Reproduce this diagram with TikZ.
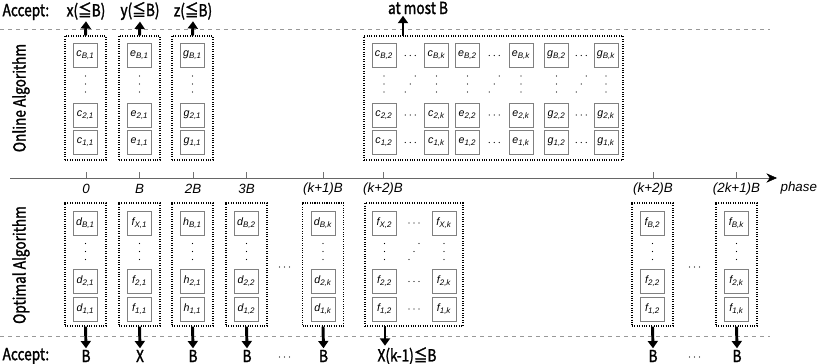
\documentclass[tikz,border=0pt]{standalone}
\usepackage{fontspec}
\setmainfont{Liberation Sans}
\newfontfamily\jpfont{Noto Sans CJK JP}[FakeStretch=0.82,FakeBold=1.6]
\usetikzlibrary{arrows.meta,positioning}

\tikzset{
  cell/.style={draw=black!50,fill=white,minimum size=18pt,inner sep=0pt,font=\footnotesize\itshape},
  grp/.style={draw,densely dotted,thick,inner sep=0pt,minimum width=30.75pt,minimum height=93pt},
  acc/.style={-{Triangle[length=5.5pt,width=7.5pt]},line width=2.2pt},
  sep/.style={dashed,black!40},
  lbl/.style={font=\jpfont\fontsize{12.5}{14}\selectfont,inner sep=1pt},
  phs/.style={font=\itshape\fontsize{10}{12}\selectfont,inner sep=1pt},
}
\newcommand{\cl}[2]{#1\textsubscript{#2}}
\newcommand{\vdts}[2]{\foreach \d in {-8,0,8} \fill (#1,#2) ++(0,\d) circle (0.5pt);}
\newcommand{\hdts}[2]{\foreach \d in {-5,0,5} \fill (#1,#2) ++(\d,0) circle (0.5pt);}
\newcommand{\ddts}[2]{\foreach \d in {-1,0,1} \fill (#1,#2) ++(5*\d,-8*\d) circle (0.5pt);}

\begin{document}
\begin{tikzpicture}[x=0.75pt,y=-0.75pt]
  \useasboundingbox (0,0) rectangle (818,364);
  % separators
  \draw[sep] (0,29) -- (770,29);
  \draw[sep] (0,336) -- (770,336);
  \node[lbl,anchor=west] (acctop) at (1,12) {Accept:};
  \node[lbl,anchor=west] (accbot) at (1,356) {Accept:};
  \node[lbl,rotate=90] (online) at (21,98) {Online Algorithm};
  \node[lbl,rotate=90] (optimal) at (21,265) {Optimal Algorithm};

  % phase axis
  \coordinate (t0) at (10,178);
  \coordinate (t1) at (777,178);
  \draw[black!60,-{Stealth[length=8pt,width=7pt,color=black]}] (t0) -- (t1);
  \node[phs,anchor=west] (phase) at (779,188) {phase};
  \foreach \x/\tx [count=\i] in {86/0,139.5/B,193/2B,246.5/3B,323/(k+1)B,383/(k+2)B,653/(k+2)B,736.5/(2k+1)B} {
    \draw[black!55] (\x,172) -- (\x,178);
    \node[phs] (tk\i) at (\x,189) {\tx};
  }

  % online algorithm, first column of each
  \foreach \x/\ltr/\tx [count=\i] in {85.5/c/x,139.5/e/y,192.5/g/z} {
    \node[grp] (on\i) at (\x,98) {};
    \node[cell] (on\i t) at (\x,55.5) {\cl{\ltr}{B,1}};
    \node[cell] (on\i b) at (\x,115) {\cl{\ltr}{2,1}};
    \node[cell] (on\i a) at (\x,142.5) {\cl{\ltr}{1,1}};
    \vdts{\x}{84}
    \node[lbl] (up\i) at (\x+0.5,11) {\tx(≦B)};
    \draw[acc] (on\i.north) -- (up\i.south);
  }

  % online algorithm, remaining columns
  \node[grp,minimum width=194.25pt] (on4) at (493.5,98) {};
  \foreach \ltr/\xa/\xb [evaluate=\xa as \xm using (\xa+\xb)/2] in {c/384/436.5,e/467.5/521,g/556.5/606} {
    \node[cell] (\ltr2t) at (\xa,55.5) {\cl{\ltr}{B,2}};
    \node[cell] (\ltr2b) at (\xa,115) {\cl{\ltr}{2,2}};
    \node[cell] (\ltr2a) at (\xa,142.5) {\cl{\ltr}{1,2}};
    \node[cell] (\ltr kt) at (\xb,55.5) {\cl{\ltr}{B,k}};
    \node[cell] (\ltr kb) at (\xb,115) {\cl{\ltr}{2,k}};
    \node[cell] (\ltr ka) at (\xb,142.5) {\cl{\ltr}{1,k}};
    \vdts{\xa}{84}
    \vdts{\xb}{84}
    \ddts{\xm}{84}
    \foreach \y in {55.5,115,142.5} {\hdts{\xm}{\y}}
  }
  \coordinate (on4up) at (403,36);
  \node[lbl] (most) at (418,8) {at most B};
  \draw[acc] (on4up) -- (on4up |- most.south);

  % optimal algorithm, single columns
  \foreach \x/\ltr/\tp/\col/\tx [count=\i] in {85.5/d/B/1/B,139.5/f/X/1/X,192.5/h/B/1/B,246.5/d/B/2/B,323/d/B/k/B,652.5/f/B/2/B,736.5/f/B/k/B} {
    \node[grp,minimum height=92.25pt] (op\i) at (\x,264.5) {};
    \node[cell] (op\i t) at (\x,223) {\cl{\ltr}{\tp,\col}};
    \node[cell] (op\i b) at (\x,281.5) {\cl{\ltr}{2,\col}};
    \node[cell] (op\i a) at (\x,309) {\cl{\ltr}{1,\col}};
    \vdts{\x}{251.5}
    \node[lbl] (dn\i) at (\x+0.5,356) {\tx};
    \draw[acc] (op\i.south) -- (dn\i.north);
  }
  \hdts{284.5}{267}
  \hdts{694.5}{267}
  \hdts{284.5}{357}
  \hdts{694.5}{357}

  % optimal algorithm, f_X block
  \node[grp,minimum width=73.5pt,minimum height=92.25pt] (opx) at (414,264.5) {};
  \node[cell] (fx2t) at (384.5,223) {\cl{f}{X,2}};
  \node[cell] (fx2b) at (384.5,281.5) {\cl{f}{2,2}};
  \node[cell] (fx2a) at (384.5,309) {\cl{f}{1,2}};
  \node[cell] (fxkt) at (444,223) {\cl{f}{X,k}};
  \node[cell] (fxkb) at (444,281.5) {\cl{f}{2,k}};
  \node[cell] (fxka) at (444,309) {\cl{f}{1,k}};
  \vdts{384.5}{251.5}
  \vdts{444}{251.5}
  \ddts{414}{251.5}
  \foreach \y in {223,281.5,309} {\hdts{414}{\y}}
  \coordinate (opxdn) at (385,326);
  \node[lbl] (dnx) at (407,356) {X(k-1)≦B};
  \draw[acc] (opxdn) -- (opxdn |- dnx.north);
\end{tikzpicture}
\end{document}
